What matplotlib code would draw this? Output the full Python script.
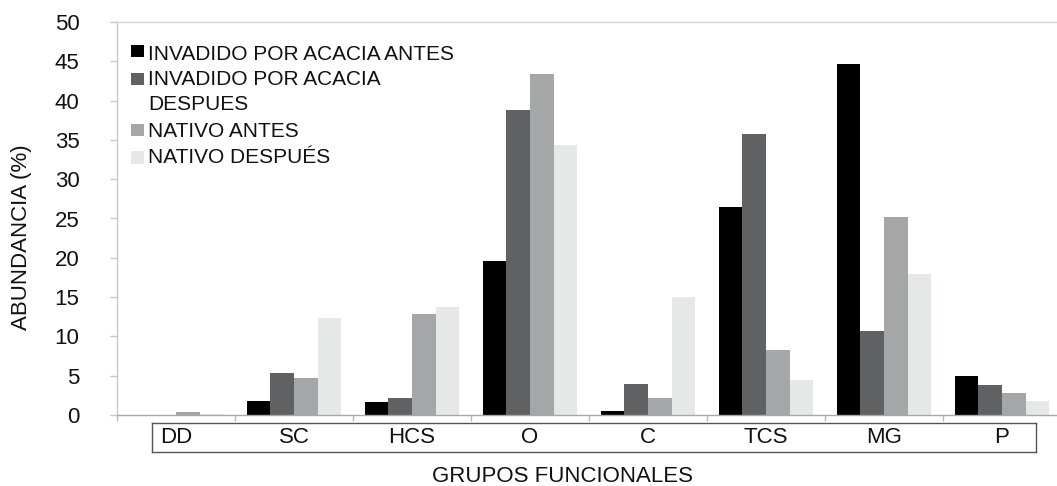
import matplotlib
matplotlib.use("Agg")
import matplotlib.pyplot as plt
from matplotlib.patches import Rectangle

plt.rcParams['font.family'] = ['Liberation Sans', 'DejaVu Sans']

groups = ["DD", "SC", "HCS", "O", "C", "TCS", "MG", "P"]
invadido_antes = [0.0, 1.8, 1.6, 19.6, 0.55, 26.5, 44.7, 4.95]
invadido_despues = [0.0, 5.3, 2.1, 38.8, 3.95, 35.75, 10.65, 3.8]
nativo_antes = [0.35, 4.75, 12.85, 43.4, 2.1, 8.3, 25.2, 2.75]
nativo_despues = [0.1, 12.3, 13.7, 34.3, 15.0, 4.5, 17.9, 1.8]

series = [invadido_antes, invadido_despues, nativo_antes, nativo_despues]
colors = ["#000000", "#606162", "#a4a6a7", "#e6e7e7"]
legend_lines = [["INVADIDO POR ACACIA ANTES"],
                ["INVADIDO POR ACACIA", "DESPUES"],
                ["NATIVO ANTES"],
                ["NATIVO DESPUÉS"]]
yticks = [0, 5, 10, 15, 20, 25, 30, 35, 40, 45, 50]

W, H = 1057, 486
fig = plt.figure(figsize=(W / 100, H / 100), dpi=100)

def fx(px):
    return px / W

def fy(py):
    return 1 - py / H

ax_left, ax_right = 117, 1061
ax = fig.add_axes([fx(ax_left), fy(415), fx(ax_right) - fx(ax_left), fy(22) - fy(415)])

bar_w = 0.2
offsets = [-0.3, -0.1, 0.1, 0.3]
for vals, col, off in zip(series, colors, offsets):
    ax.bar([i + off for i in range(len(groups))], vals, width=bar_w,
           color=col, edgecolor='none', zorder=2)

n = len(groups)
ax.set_xlim(-0.5, n - 0.5)
ax.set_ylim(0, 50)
ax.set_yticks(yticks)
ax.set_yticklabels([str(t) for t in yticks], fontsize=16, color="#111111")
ax.tick_params(axis='y', length=5, width=1, color="#c8c8c8", pad=22)

ax.set_xticks([i - 0.5 for i in range(n + 1)])
ax.set_xticklabels([])
ax.tick_params(axis='x', length=4, width=1, color="#b8b8b8", direction='out')

ax.spines['left'].set_color("#c8c8c8")
ax.spines['top'].set_color("#d4d4d4")
ax.spines['bottom'].set_color("#a8a8a8")
ax.spines['right'].set_visible(False)
for s in ax.spines.values():
    s.set_linewidth(1)

# boxed row of group names, sharing the category scale of the main axes
box_l, box_r = 152, 1036
unit = (ax_right - ax_left) / n
box = fig.add_axes([fx(box_l), fy(452), fx(box_r) - fx(box_l), fy(423) - fy(452)])
box.set_xlim(-0.5 + (box_l - ax_left) / unit, -0.5 + (box_r - ax_left) / unit)
box.set_ylim(0, 1)
box.set_xticks([])
box.set_yticks([])
for s in box.spines.values():
    s.set_color("#555555")
    s.set_linewidth(1)
for i, g in enumerate(groups):
    box.text(i, 0.5, g, ha='center', va='center', fontsize=16, color="#111111")

# legend
sq = 12.5
rows = [(51, [60]), (79, [85, 110]), (130, [137]), (157.5, [163])]
for (sq_c, baselines), col, lines in zip(rows, colors, legend_lines):
    fig.patches.append(Rectangle((fx(131), fy(sq_c + sq / 2)), fx(sq), sq / H,
                                 transform=fig.transFigure, facecolor=col,
                                 edgecolor='none'))
    for bl, txt in zip(baselines, lines):
        fig.text(fx(148), fy(bl), txt, ha='left', va='baseline',
                 fontsize=15, color="#111111")

fig.text(fx(22), fy(237), "ABUNDANCIA (%)", rotation=90, ha='center',
         va='center', fontsize=16, color="#111111")
fig.text(fx(562), fy(482), "GRUPOS FUNCIONALES", ha='center', va='baseline',
         fontsize=16, color="#111111")

fig.savefig("out.png", dpi=100)
